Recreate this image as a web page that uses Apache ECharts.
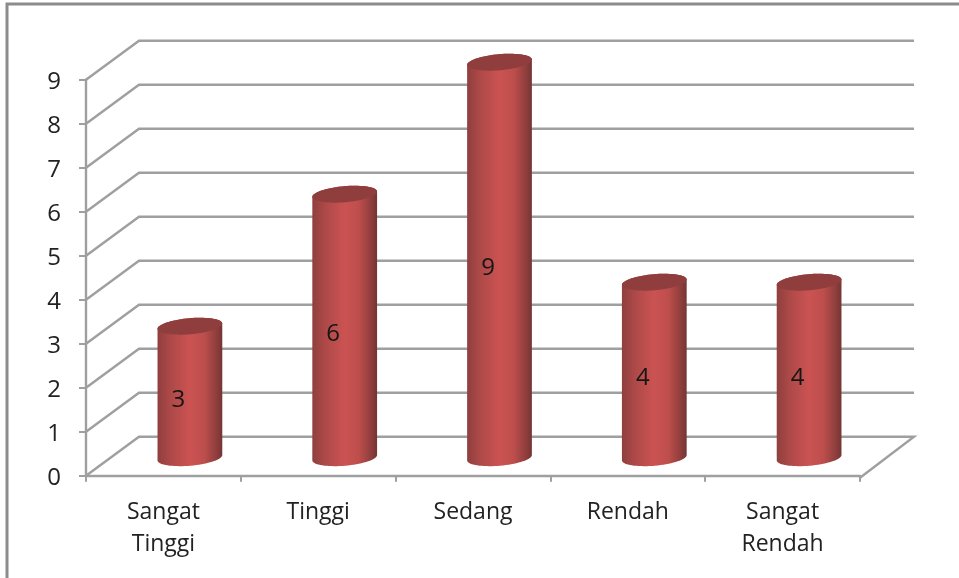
<!DOCTYPE html>
<html><head><meta charset="utf-8">
<style>html,body{margin:0;padding:0;background:#fff}#c{width:959px;height:578px}</style>
<script src="https://cdn.jsdelivr.net/npm/echarts@6/dist/echarts.min.js"></script>
</head><body><div id="c"></div>
<script>
const categories = ['Sangat\nTinggi','Tinggi','Sedang','Rendah','Sangat\nRendah'];
const values = [3,6,9,4,4];
const yTicks = [0,1,2,3,4,5,6,7,8,9];

const DX = 53, DY = -39;          // depth of the 3D box
const RX = 32.5, RY = 8, TILT = -5 * Math.PI / 180; // cylinder cap ellipse
const LIFT = -17.5;               // cylinder sits this far up the floor
const FONT = '"Open Sans"';
const LINE = '#9f9f9f';

function capPoint(cx, cy, t) {
  const x = RX * Math.cos(t), y = RY * Math.sin(t);
  return [cx + x * Math.cos(TILT) - y * Math.sin(TILT), cy + x * Math.sin(TILT) + y * Math.cos(TILT)];
}
function cap(cx, cy) {
  const p = [];
  for (let i = 0; i < 72; i++) p.push(capPoint(cx, cy, i / 72 * 2 * Math.PI));
  return p;
}
function body(cx, top, bottom) {
  const p = [];
  for (let i = 0; i <= 36; i++) p.push(capPoint(cx, top, -i / 36 * Math.PI));
  for (let i = 0; i <= 36; i++) p.push(capPoint(cx, bottom, Math.PI - i / 36 * Math.PI));
  return p;
}

function renderWall(params, api) {
  const v = api.value(0);
  const a = api.coord([0, v]);
  const rect = params.coordSys;
  const right = rect.x + rect.width;
  const pts = [[rect.x, a[1]], [rect.x + DX, a[1] + DY], [right + DX + 1, a[1] + DY]];
  if (v === 0) pts.push([right, a[1] + 2]);
  return {
    type: 'polyline',
    shape: { points: pts },
    style: { fill: null, stroke: LINE, lineWidth: 2.4 }
  };
}

function renderCylinder(params, api) {
  const i = api.value(0), v = api.value(1);
  const base = api.coord([i, 0]), head = api.coord([i, v]), mid = api.coord([i, v / 2]);
  const cx = base[0] + DX / 2;
  const bottom = base[1] + LIFT - 0.5, top = head[1] + LIFT;
  return {
    type: 'group',
    children: [
      {
        type: 'polygon',
        shape: { points: body(cx, top, bottom) },
        style: {
          fill: {
            type: 'linear', x: 0, y: 0, x2: 1, y2: 0,
            colorStops: [
              { offset: 0, color: '#8f3f3e' },
              { offset: 0.2, color: '#ad4948' },
              { offset: 0.5, color: '#cb5352' },
              { offset: 0.72, color: '#bd4e4c' },
              { offset: 0.9, color: '#913f3e' },
              { offset: 1, color: '#743534' }
            ]
          }
        }
      },
      { type: 'polygon', shape: { points: cap(cx, top) }, style: { fill: '#8f3e3d' } },
      {
        type: 'text',
        style: {
          x: mid[0] + 15, y: mid[1] - 9.5, text: String(v),
          align: 'center', verticalAlign: 'middle',
          font: '24px ' + FONT, fill: '#161616'
        }
      }
    ]
  };
}

const chart = echarts.init(document.getElementById('c'), null, { renderer: 'canvas' });
chart.setOption({
  animation: false,
  backgroundColor: '#fff',
  graphic: [{
    type: 'rect', silent: true, z: -1,
    shape: { x: 7, y: 4, width: 980, height: 640 },
    style: { fill: null, stroke: '#8c8c8c', lineWidth: 3 }
  }],
  grid: { left: 86, top: 79.7, width: 774, height: 396 },
  xAxis: {
    type: 'category', data: categories, offset: 1.5,
    axisLine: { lineStyle: { color: LINE, width: 2.4 } },
    axisTick: { show: true, length: 6, lineStyle: { color: LINE, width: 2 } },
    axisLabel: { color: '#222222', fontFamily: FONT, fontSize: 23, lineHeight: 32, margin: 19, interval: 0 },
    splitLine: { show: false }
  },
  yAxis: {
    type: 'value', min: 0, max: 9, interval: 1,
    axisLine: { show: true, lineStyle: { color: LINE, width: 2.4 } },
    axisTick: { show: true, length: 7, lineStyle: { color: LINE, width: 2 } },
    axisLabel: { color: '#222222', fontFamily: FONT, fontSize: 24, margin: 25, verticalAlign: 'top', lineHeight: 4, formatter: v => String(v) },
    splitLine: { show: false }
  },
  series: [
    { type: 'custom', renderItem: renderWall, data: yTicks.map(v => [v]), encode: { y: 0 }, z: 1, clip: false, silent: true },
    { type: 'custom', renderItem: renderCylinder, data: values.map((v, i) => [i, v]), encode: { x: 0, y: 1 }, z: 3, clip: false, silent: true }
  ]
});
</script></body></html>
